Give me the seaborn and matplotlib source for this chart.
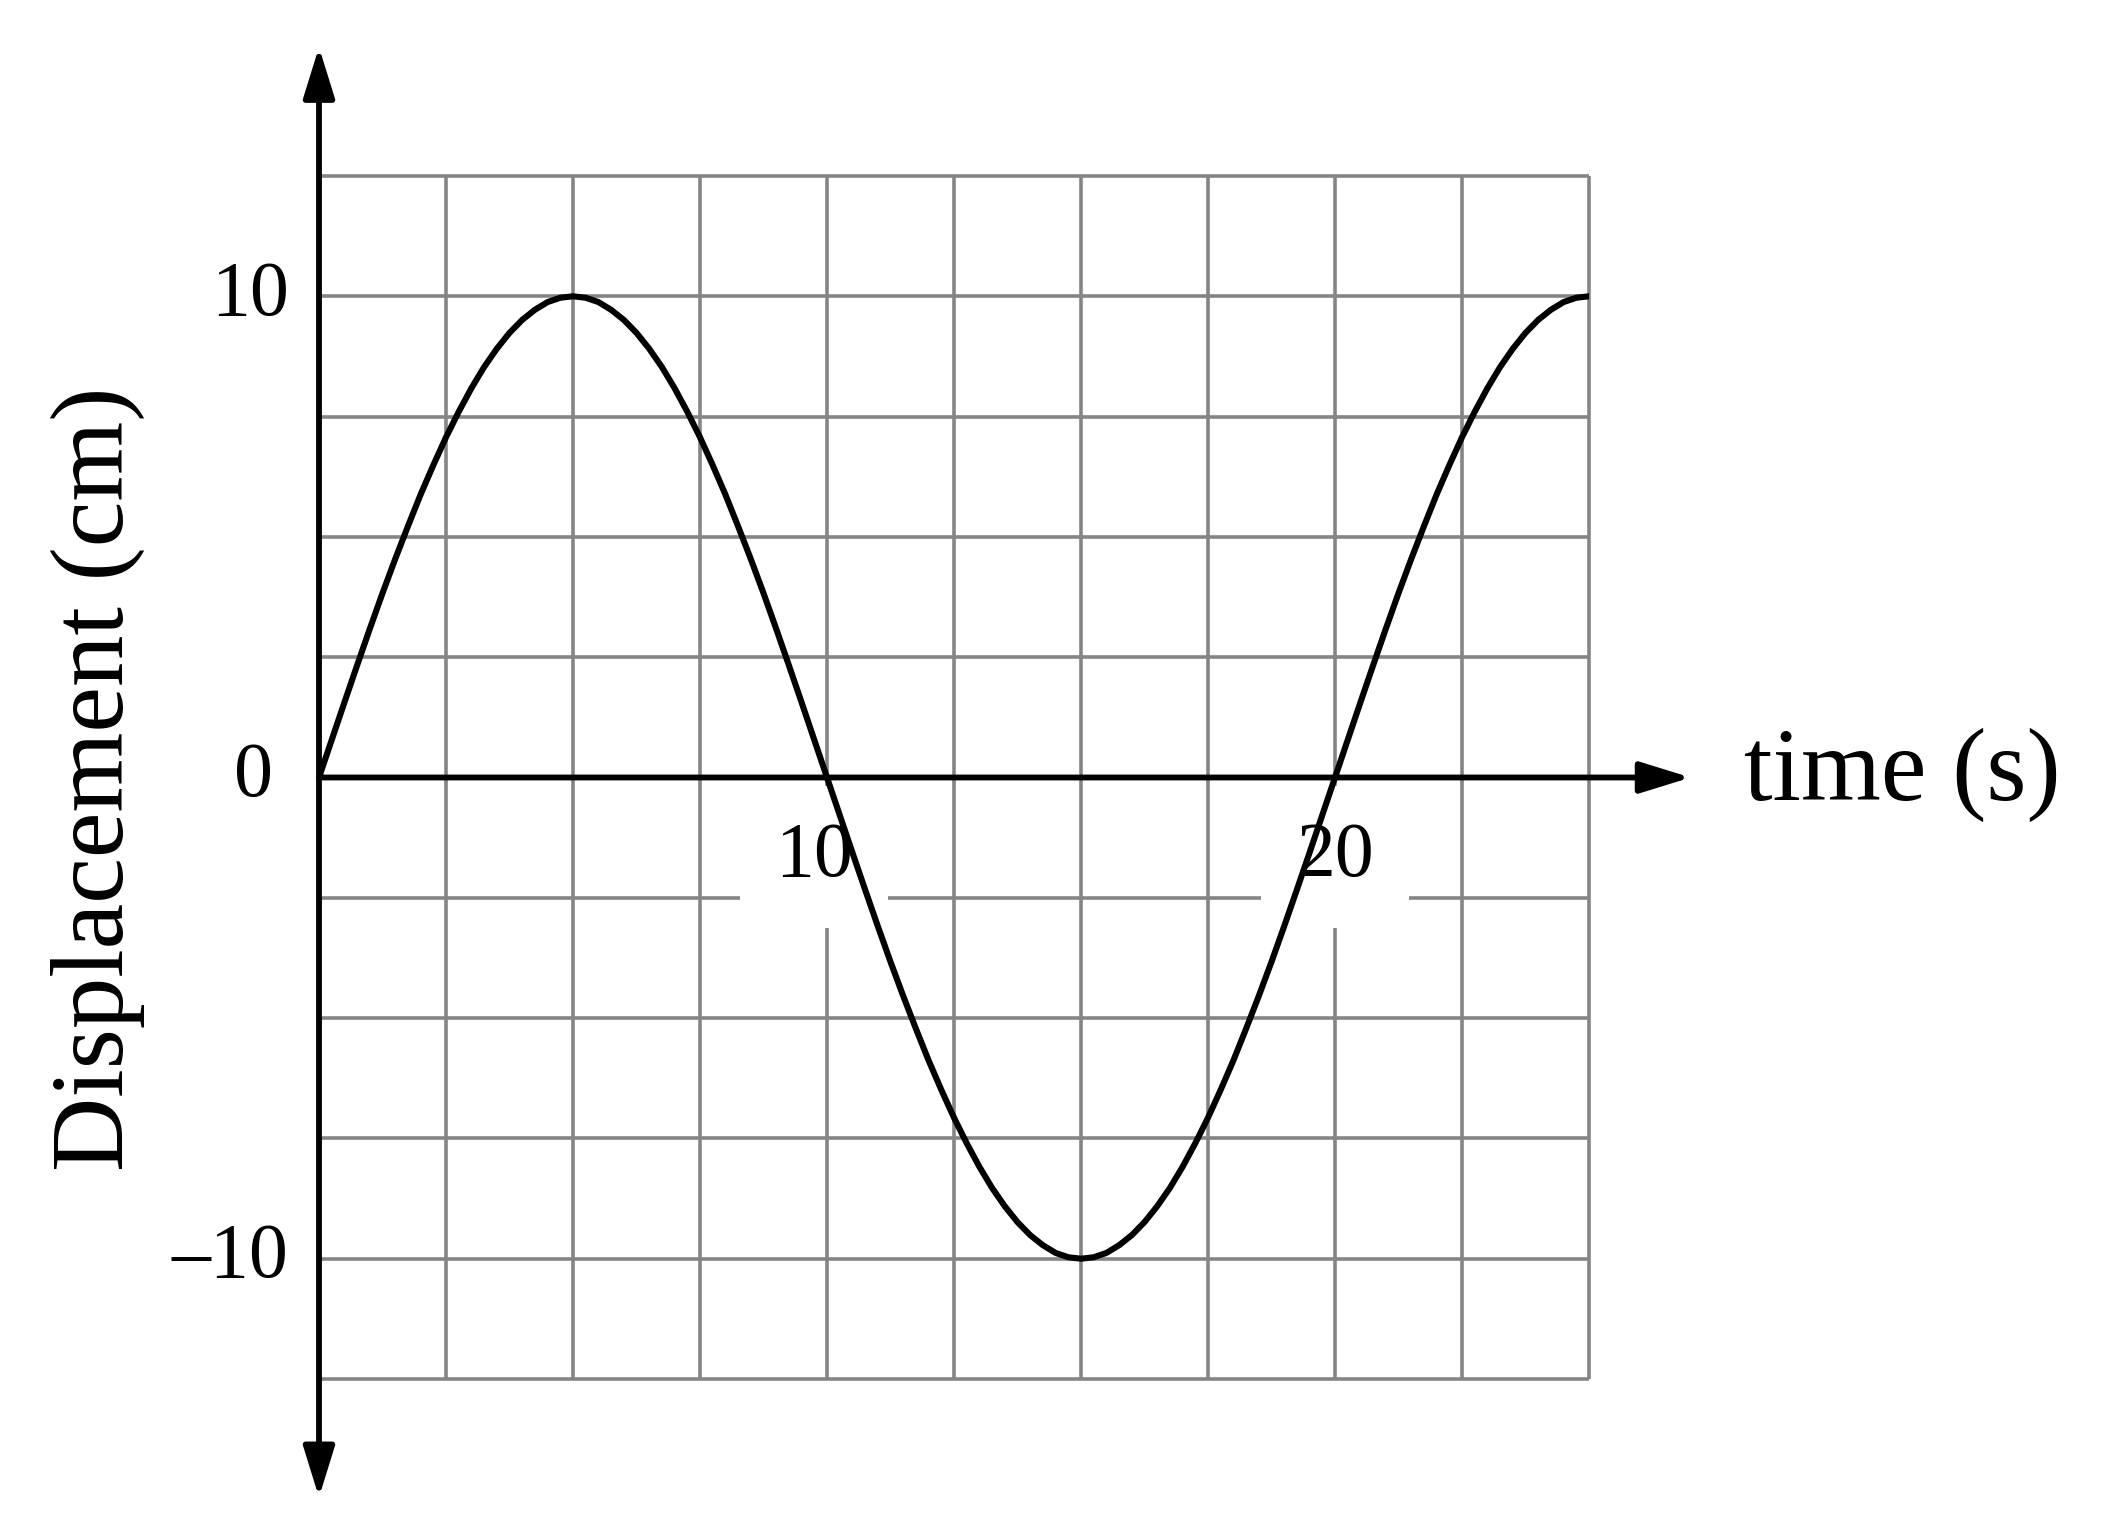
import numpy as np
import pandas as pd
import matplotlib
matplotlib.use("Agg")
import matplotlib.pyplot as plt
import seaborn as sns

# ---- data ----
time_s = [0.0, 0.25, 0.5, 0.75, 1.0, 1.25, 1.5, 1.75, 2.0, 2.25,
          2.5, 2.75, 3.0, 3.25, 3.5, 3.75, 4.0, 4.25, 4.5, 4.75,
          5.0, 5.25, 5.5, 5.75, 6.0, 6.25, 6.5, 6.75, 7.0, 7.25,
          7.5, 7.75, 8.0, 8.25, 8.5, 8.75, 9.0, 9.25, 9.5, 9.75,
          10.0, 10.25, 10.5, 10.75, 11.0, 11.25, 11.5, 11.75, 12.0, 12.25,
          12.5, 12.75, 13.0, 13.25, 13.5, 13.75, 14.0, 14.25, 14.5, 14.75,
          15.0, 15.25, 15.5, 15.75, 16.0, 16.25, 16.5, 16.75, 17.0, 17.25,
          17.5, 17.75, 18.0, 18.25, 18.5, 18.75, 19.0, 19.25, 19.5, 19.75,
          20.0, 20.25, 20.5, 20.75, 21.0, 21.25, 21.5, 21.75, 22.0, 22.25,
          22.5, 22.75, 23.0, 23.25, 23.5, 23.75, 24.0, 24.25, 24.5, 24.75,
          25.0]
displacement_cm = [0.0, 0.78, 1.56, 2.33, 3.09, 3.83, 4.54, 5.22, 5.88, 6.49,
                   7.07, 7.60, 8.09, 8.53, 8.91, 9.24, 9.51, 9.72, 9.88, 9.97,
                   10.0, 9.97, 9.88, 9.72, 9.51, 9.24, 8.91, 8.53, 8.09, 7.60,
                   7.07, 6.49, 5.88, 5.22, 4.54, 3.83, 3.09, 2.33, 1.56, 0.78,
                   0.0, -0.78, -1.56, -2.33, -3.09, -3.83, -4.54, -5.22, -5.88, -6.49,
                   -7.07, -7.60, -8.09, -8.53, -8.91, -9.24, -9.51, -9.72, -9.88, -9.97,
                   -10.0, -9.97, -9.88, -9.72, -9.51, -9.24, -8.91, -8.53, -8.09, -7.60,
                   -7.07, -6.49, -5.88, -5.22, -4.54, -3.83, -3.09, -2.33, -1.56, -0.78,
                   0.0, 0.78, 1.56, 2.33, 3.09, 3.83, 4.54, 5.22, 5.88, 6.49,
                   7.07, 7.60, 8.09, 8.53, 8.91, 9.24, 9.51, 9.72, 9.88, 9.97,
                   10.0]
xtick_values = [10, 20]
xtick_labels = ["10", "20"]
ytick_values = [10, 0, -10]
ytick_labels = ["10", "0", "\u201310"]
x_label = "time (s)"
y_label = "Displacement (cm)"

# ---- style ----
sns.set_theme(style="white")
plt.rcParams["font.family"] = ["Liberation Serif", "DejaVu Serif"]

W, H = 2117, 1540
fig = plt.figure(figsize=(W / 100, H / 100), dpi=100)
fig.patch.set_facecolor("white")
x0p, x1p, ytp, ybp = 319, 1589, 176, 1379
ax = fig.add_axes([x0p / W, 1 - ybp / H, (x1p - x0p) / W, (ybp - ytp) / H])

df = pd.DataFrame({"time": time_s, "disp": displacement_cm})
sns.lineplot(data=df, x="time", y="disp", color="black", lw=4.4,
             sort=False, ax=ax, zorder=5)
for ln in ax.get_lines():
    ln.set_solid_capstyle("round")
    ln.set_solid_joinstyle("round")

ax.set_xlim(0, 25)
ax.set_ylim(-12.5, 12.5)
ax.axis("off")

grid_color = "#858585"
gx = np.arange(0, 25.01, 2.5)
gy = np.arange(-12.5, 12.51, 2.5)
ax.vlines(gx, -12.5, 12.5, color=grid_color, lw=2.6, zorder=1, clip_on=False)
ax.hlines(gy, 0, 25, color=grid_color, lw=2.6, zorder=1, clip_on=False)

# axes with arrows
ax.annotate("", xy=(0, 15.18), xytext=(0, -14.96), annotation_clip=False,
            arrowprops=dict(arrowstyle="<|-|>,head_length=1.55,head_width=0.48",
                            color="black", lw=4.2, shrinkA=0, shrinkB=0,
                            mutation_scale=20), zorder=4)
ax.annotate("", xy=(27.0, 0), xytext=(0, 0), annotation_clip=False,
            arrowprops=dict(arrowstyle="-|>,head_length=1.55,head_width=0.48",
                            color="black", lw=4.2, shrinkA=0, shrinkB=0,
                            mutation_scale=20), zorder=4)

# tick labels
tick_fs = 56
x_shift = {10: -0.25, 20: 0.0}
for v, lab in zip(xtick_values, xtick_labels):
    ax.text(v + x_shift.get(v, 0), -1.65, lab, ha="center", va="center",
            fontsize=tick_fs, color="black", zorder=2.5, clip_on=False,
            bbox=dict(boxstyle="square,pad=0.45", fc="white", ec="none"))
for v, lab in zip(ytick_values, ytick_labels):
    ax.text(-0.6 if v != 0 else -0.9, v, lab, ha="right", va="center",
            fontsize=tick_fs, color="black", zorder=2.5, clip_on=False)

ax.text(28.05, 0.05, x_label, ha="left", va="center", fontsize=74,
        color="black", clip_on=False)
fig.text(98 / W, 1 - 779 / H, y_label, rotation=90, ha="center",
         va="center", fontsize=74, color="black")

fig.savefig("out.png", dpi=100, facecolor="white")
